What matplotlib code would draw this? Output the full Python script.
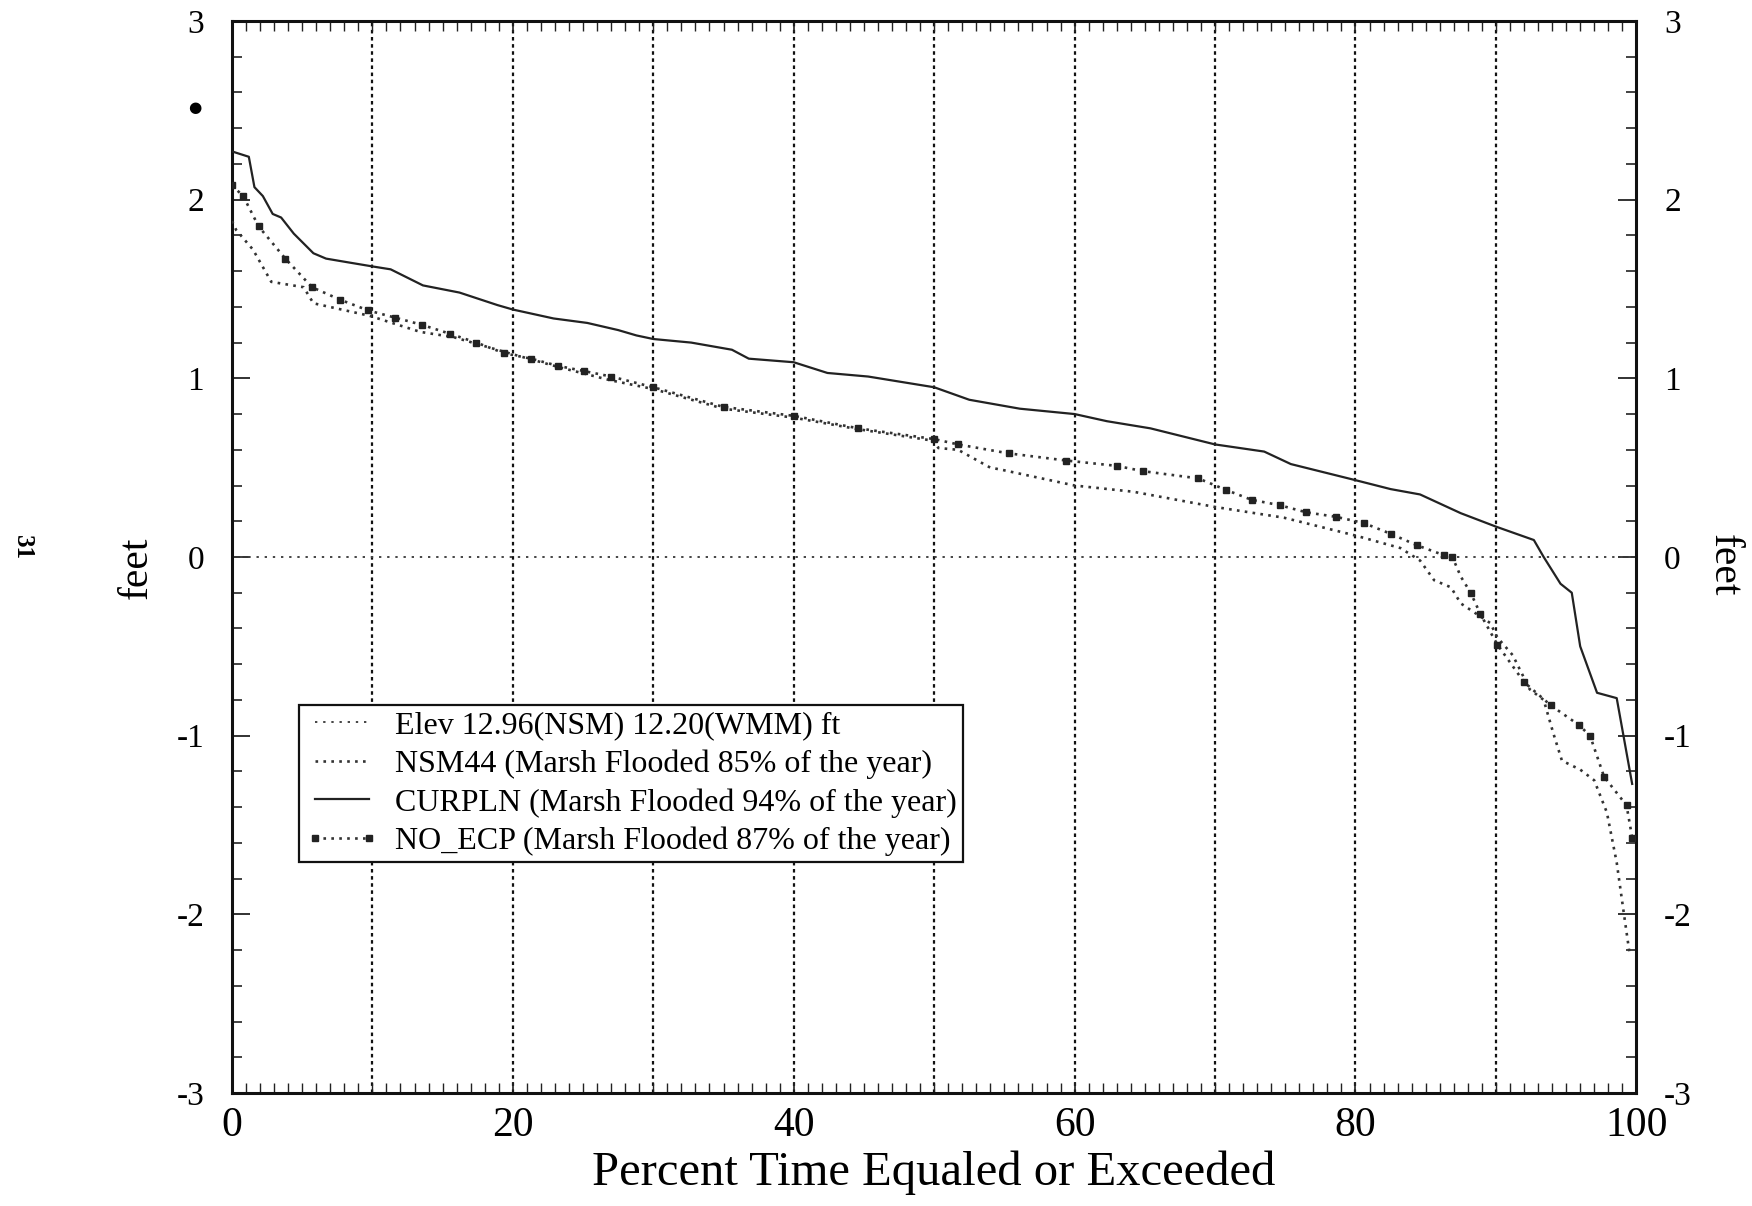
import numpy as np
import matplotlib
matplotlib.use('Agg')
from matplotlib import pyplot as plt
from matplotlib.ticker import MultipleLocator

plt.rcParams['font.family'] = ['Liberation Serif', 'DejaVu Serif']
plt.rcParams['axes.unicode_minus'] = False

# duration curves (percent time vs feet)
curpln_x = [0, 1.2, 1.6, 2.2, 2.9, 3.5, 4.4, 5.8, 6.7, 8.2, 10.1, 11.3, 13.6, 16.2, 18.9, 20,
            22.9, 25.3, 27.5, 28.8, 30, 32.7, 35.6, 36.8, 40, 42.4, 45.3, 50, 52.5, 56.1, 60,
            62.3, 65.4, 70, 73.5, 75.4, 80, 82.5, 84.6, 87.5, 90, 92.7, 93.4, 94.6, 95.4, 96.0,
            97.2, 98.6, 99.7]
curpln_y = [2.27, 2.24, 2.07, 2.02, 1.92, 1.90, 1.81, 1.70, 1.67, 1.65, 1.625, 1.61, 1.52, 1.48,
            1.41, 1.385, 1.335, 1.31, 1.27, 1.24, 1.22, 1.20, 1.16, 1.11, 1.09, 1.03, 1.01, 0.95,
            0.88, 0.83, 0.80, 0.76, 0.72, 0.63, 0.59, 0.52, 0.43, 0.38, 0.35, 0.245, 0.17, 0.095,
            0.0, -0.15, -0.2, -0.5, -0.76, -0.79, -1.27]

nsm44_x = [0, 0.3, 1.5, 2.8, 5.1, 5.8, 9.8, 13.4, 15.8, 20.2, 23.4, 26.9, 30, 35, 40, 44.6, 50,
           50.3, 51.7, 54, 54.7, 60, 64.2, 70, 74.9, 80, 83.2, 84.6, 85.6, 86.8, 87.5, 89.6, 90.1,
           91.2, 92.4, 93.4, 94.1, 94.7, 96.0, 97.0, 97.9, 98.6, 99.1, 99.5]
nsm44_y = [1.88, 1.83, 1.72, 1.54, 1.51, 1.42, 1.35, 1.26, 1.23, 1.13, 1.06, 0.99, 0.94, 0.83,
           0.78, 0.715, 0.65, 0.61, 0.60, 0.50, 0.49, 0.40, 0.365, 0.28, 0.22, 0.12, 0.05, -0.02,
           -0.13, -0.17, -0.26, -0.37, -0.45, -0.55, -0.74, -0.80, -0.99, -1.14, -1.19, -1.25,
           -1.43, -1.71, -1.99, -2.21]

no_ecp_x = [0, 0.8, 1.9, 3.8, 5.7, 7.7, 9.7, 11.6, 13.5, 15.5, 17.4, 19.4, 21.3, 23.2, 25.1, 27.0,
            30, 35, 40, 44.6, 50, 51.7, 55.3, 59.4, 63, 64.9, 68.8, 70.8, 72.6, 74.6, 76.5, 78.6,
            80.6, 82.5, 84.4, 86.3, 86.9, 87.5, 88.2, 88.9, 90.1, 92.0, 93.9, 95.9, 96.7, 97.7,
            99.3, 99.7]
no_ecp_y = [2.08, 2.02, 1.85, 1.67, 1.51, 1.44, 1.38, 1.34, 1.30, 1.25, 1.20, 1.14, 1.11, 1.07,
            1.04, 1.01, 0.95, 0.84, 0.79, 0.72, 0.66, 0.63, 0.58, 0.54, 0.51, 0.48, 0.44, 0.375,
            0.32, 0.29, 0.25, 0.225, 0.19, 0.13, 0.065, 0.01, 0.0, -0.11, -0.20, -0.32, -0.49,
            -0.70, -0.83, -0.94, -1.0, -1.23, -1.39, -1.57]

elev = 0.0
labels = ['Elev 12.96(NSM) 12.20(WMM) ft',
          'NSM44 (Marsh Flooded 85% of the year)',
          'CURPLN (Marsh Flooded 94% of the year)',
          'NO_ECP (Marsh Flooded 87% of the year)']

fig = plt.figure(figsize=(17.52, 12.06), dpi=100)
ax = fig.add_axes([0.1324, 0.0937, 0.8016, 0.8889])

# vertical grid every 10 %
for gx in range(10, 100, 10):
    ax.axvline(gx, color='#111111', lw=1.6, ls=(0, (1.6, 1.6)), zorder=1)

h0 = ax.axhline(elev, color='#444444', lw=1.4, ls=(0, (1.2, 3.0)), zorder=2)
h1, = ax.plot(nsm44_x, nsm44_y, color='#333333', lw=1.9, ls=(0, (1, 2)), zorder=3)
h2, = ax.plot(curpln_x, curpln_y, color='#222222', lw=1.6, ls='-', zorder=4)
h3, = ax.plot(no_ecp_x, no_ecp_y, color='#333333', lw=1.9, ls=(0, (1, 2)),
              marker='s', ms=4.5, mfc='#222222', mec='#222222', markevery=0.0155, zorder=3)

ax.set_xlim(0, 100)
ax.set_ylim(-3, 3)

# ticks
ax.xaxis.set_major_locator(MultipleLocator(20))
ax.xaxis.set_minor_locator(MultipleLocator(1))
ax.yaxis.set_major_locator(MultipleLocator(1))
ax.yaxis.set_minor_locator(MultipleLocator(0.2))
ax.tick_params(axis='both', which='both', direction='in', top=True, right=True,
               labelright=True, color='#222222')
ax.tick_params(axis='x', which='major', length=8, width=1.2, labelsize=30, pad=10)
ax.tick_params(axis='x', which='minor', length=7, width=1.0)
ax.tick_params(axis='y', which='major', length=13, width=1.3, labelsize=24, pad=20)
ax.tick_params(axis='y', which='minor', length=7, width=1.2)
for sp in ax.spines.values():
    sp.set_linewidth(2.2)
    sp.set_color('#111111')

ax.set_xlabel('Percent Time Equaled or Exceeded', fontsize=35, labelpad=4)
ax.set_ylabel('feet', fontsize=30)
ax.yaxis.set_label_coords(-0.054, 0.49)
fig.text(0.984, 0.531, 'feet', fontsize=30, rotation=270, va='center', ha='center')

leg = ax.legend([h0, h1, h2, h3], labels, loc='upper left', bbox_to_anchor=(0.0477, 0.362),
                borderaxespad=0, fontsize=23, handlelength=2.3, handletextpad=0.5,
                labelspacing=0.28, borderpad=0.2, numpoints=2, fancybox=False, framealpha=1)
leg.get_frame().set_edgecolor('#111111')
leg.get_frame().set_linewidth(1.6)

# page number and stray mark from the scan
fig.text(0.0126, 0.546, '31', fontsize=18, fontweight='bold', rotation=270,
         va='center', ha='center')
fig.text(0.111, 0.911, '\u25cf', fontsize=11, va='center', ha='center', family='DejaVu Sans')

fig.savefig('out.png', dpi=100)
